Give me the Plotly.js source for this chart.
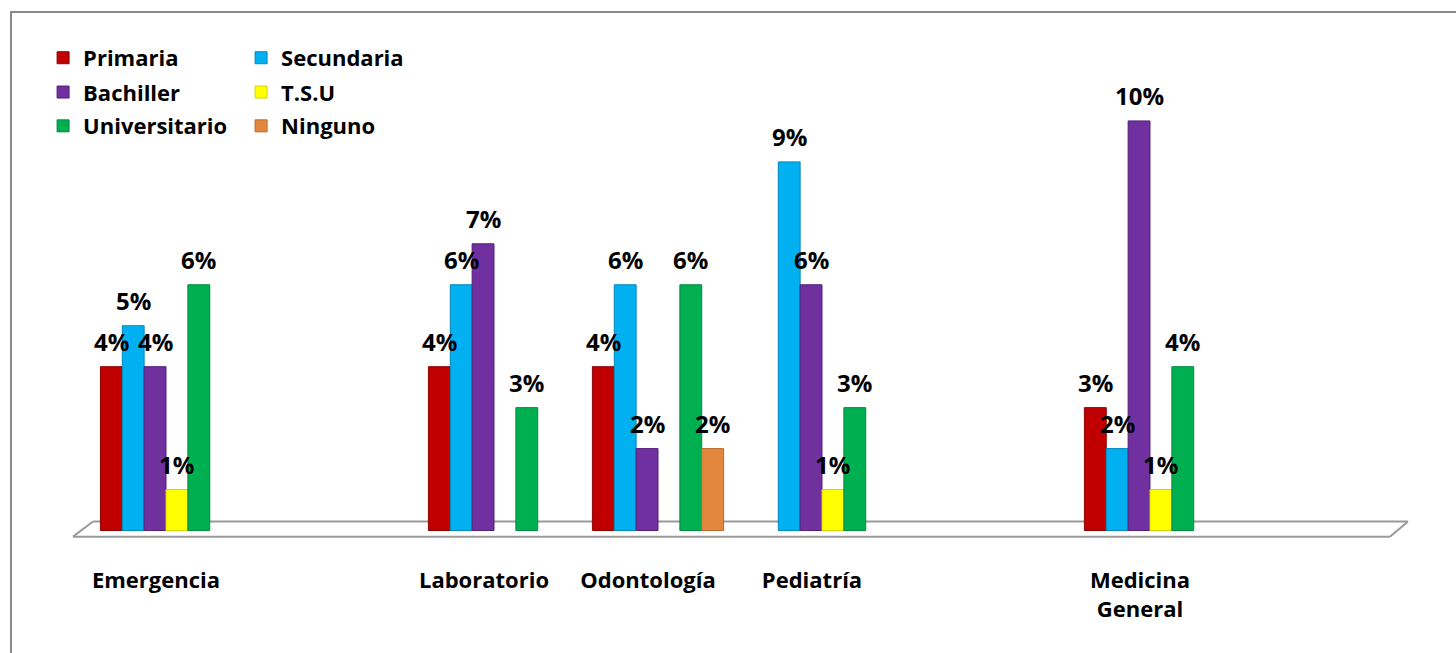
<!DOCTYPE html>
<html>
<head>
<meta charset="utf-8">
<script src="https://cdn.plot.ly/plotly-3.0.1.min.js"></script>
<style>
  html, body { margin: 0; padding: 0; background: #ffffff; }
  #wrap { position: relative; width: 1456px; height: 653px; overflow: hidden; }
  #chart { position: absolute; left: 0; top: 0; width: 1456px; height: 653px; }
  #frame {
    position: absolute; left: 10px; top: 11px; width: 1500px; height: 700px;
    border-left: 2px solid #8a8a8a; border-top: 2px solid #8a8a8a;
    pointer-events: none;
  }
</style>
</head>
<body>
<div id="wrap">
  <div id="chart"></div>
  <div id="frame"></div>
</div>
<script>
// Services (blank entries keep the empty slots along the axis)
const categories = ["Emergencia", " ", "Laboratorio", "Odontología", "Pediatría", "  ", "Medicina<br>General", "   "];

// Percentage of staff by education level in each service
const primaria      = [4, null, 4, 4, null, null, 3, null];
const secundaria    = [5, null, 6, 6, 9, null, 2, null];
const bachiller     = [4, null, 7, 2, 6, null, 10, null];
const tsu           = [1, null, null, null, 1, null, 1, null];
const universitario = [6, null, 3, 6, 3, null, 4, null];
const ninguno       = [null, null, null, 2, null, null, null, null];

const seriesNames  = ["Primaria", "Secundaria", "Bachiller", "T.S.U", "Universitario", "Ninguno"];
const seriesValues = [primaria, secundaria, bachiller, tsu, universitario, ninguno];
const seriesColors = ["#C00000", "#00B0F0", "#7030A0", "#FFFF00", "#00B050", "#E3873F"];
const seriesLines  = ["#8f0000", "#0088bb", "#532078", "#d4d400", "#008a3e", "#b8692c"];
const legendIds    = ["legend", "legend", "legend2", "legend2", "legend3", "legend3"];

const FONT = "'Open Sans', Lato, sans-serif";
const BAR_GAP = 0.2;

const traces = seriesNames.map((name, i) => ({
  type: "bar",
  name: name,
  x: categories,
  y: seriesValues[i],
  legend: legendIds[i],
  marker: { color: seriesColors[i], line: { color: seriesLines[i], width: 1 } },
  hoverinfo: "x+y+name"
}));

// Percentage labels above each bar, aligned to its slot in the group
const labels = [];
const n = seriesNames.length;
const slot = (1 - BAR_GAP) / n;
seriesValues.forEach((vals, i) => {
  vals.forEach((v, j) => {
    if (v === null) return;
    labels.push({
      x: j + (i - (n - 1) / 2) * slot,
      y: v,
      xref: "x", yref: "y",
      text: v + "%",
      showarrow: false,
      yanchor: "bottom",
      yshift: 7,
      font: { family: FONT, size: 24, color: "#000000", weight: 700 }
    });
  });
});

// Floor plate under the bars
const floorColor = "#9a9a9a";
const floor = [
  { type: "line", xref: "x", yref: "y", x0: -0.567, y0: -0.15, x1: 7.463, y1: -0.15, line: { color: floorColor, width: 2 }, layer: "below" },
  { type: "line", xref: "x", yref: "y", x0: -0.445, y0: 0.22, x1: 7.573, y1: 0.22, line: { color: floorColor, width: 2 }, layer: "below" },
  { type: "line", xref: "x", yref: "y", x0: -0.567, y0: -0.15, x1: -0.445, y1: 0.22, line: { color: floorColor, width: 2 }, layer: "below" },
  { type: "line", xref: "x", yref: "y", x0: 7.463, y0: -0.15, x1: 7.573, y1: 0.22, line: { color: floorColor, width: 2 }, layer: "below" }
];

const legendFont = { family: FONT, size: 22, color: "#000000", weight: 700 };
function legendAt(y) {
  return {
    orientation: "h", x: -0.0200, xanchor: "left", y: y, yanchor: "middle",
    entrywidth: 153, font: legendFont, bgcolor: "rgba(0,0,0,0)", traceorder: "normal",
    itemclick: false, itemdoubleclick: false
  };
}

const layout = {
  width: 1456, height: 653,
  margin: { l: 70, r: 40, t: 39, b: 102 },
  paper_bgcolor: "#ffffff", plot_bgcolor: "#ffffff",
  barmode: "group", bargap: BAR_GAP, bargroupgap: 0,
  font: { family: FONT, color: "#000000" },
  xaxis: {
    type: "category", categoryorder: "array", categoryarray: categories,
    range: [-0.5854, 7.622],
    showgrid: false, zeroline: false, showline: false, ticks: "",
    tickfont: { family: FONT, size: 22, color: "#000000", weight: 700 },
    ticklabelshift: -10, ticklabelstandoff: 14, fixedrange: true
  },
  yaxis: { range: [-0.5, 12], visible: false, fixedrange: true },
  legend: legendAt(0.963),
  legend2: legendAt(0.896),
  legend3: legendAt(0.830),
  shapes: floor,
  annotations: labels,
  showlegend: true
};

Plotly.newPlot("chart", traces, layout, { displayModeBar: false, staticPlot: true });
</script>
</body>
</html>
